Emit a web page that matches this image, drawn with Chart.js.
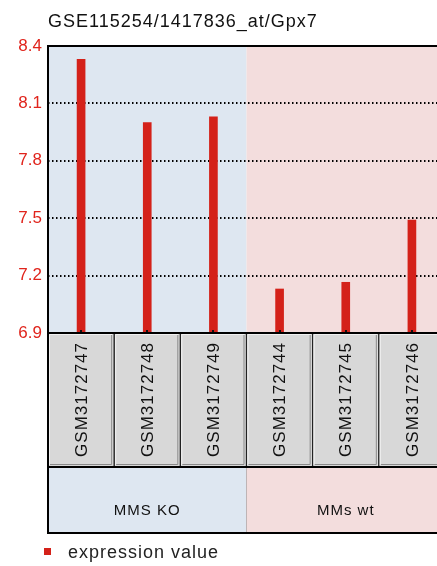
<!DOCTYPE html>
<html>
<head>
<meta charset="utf-8">
<script src="https://cdn.jsdelivr.net/npm/chart.js@4/dist/chart.umd.min.js"></script>
<style>
  html, body { margin: 0; padding: 0; background: #fff; overflow: hidden; }
  #wrap { position: relative; width: 450px; height: 566px; }
</style>
</head>
<body>
<div id="wrap"><canvas id="c"></canvas></div>
<script>
// Expression profile for probe 1417836_at (Gpx7), GSE115254
const chartTitle = "GSE115254/1417836_at/Gpx7";
const samples = ["GSM3172747", "GSM3172748", "GSM3172749", "GSM3172744", "GSM3172745", "GSM3172746"];
const expression = [8.33, 8.00, 8.03, 7.13, 7.165, 7.49];
const sampleGroups = ["MMS KO", "MMS KO", "MMS KO", "MMs wt", "MMs wt", "MMs wt"];
const groupNames = ["MMS KO", "MMs wt"];
const yTicks = [6.9, 7.2, 7.5, 7.8, 8.1, 8.4];
const seriesName = "expression value";

const groupFill = { "MMS KO": "#dee7f1", "MMs wt": "#f3dddd" };
const barColor = "#d42119";
const FONT = "'Liberation Sans', Arial, sans-serif";

// index range [first, last] of each group along the category axis
function groupSpans() {
  return groupNames.map(g => {
    const idx = sampleGroups.map((s, i) => s === g ? i : -1).filter(i => i >= 0);
    return { name: g, first: Math.min(...idx), last: Math.max(...idx) };
  });
}

function colEdges(xs, i) {
  const half = (xs.getPixelForValue(1) - xs.getPixelForValue(0)) / 2;
  const c = xs.getPixelForValue(i);
  return [c - half, c + half];
}

const decorations = {
  id: "decorations",
  beforeDraw(chart) {
    const { ctx, chartArea: a, scales: { x } } = chart;
    ctx.save();
    for (const g of groupSpans()) {
      const l = colEdges(x, g.first)[0], r = colEdges(x, g.last)[1];
      ctx.fillStyle = groupFill[g.name];
      ctx.fillRect(l, a.top, r - l, a.bottom - a.top);
    }
    ctx.restore();
  },
  afterDraw(chart) {
    const { ctx, chartArea: a, scales: { x } } = chart;
    const labelTop = a.bottom, labelBottom = a.bottom + 134;
    const groupBottom = labelBottom + 66;
    ctx.save();
    ctx.letterSpacing = "1px";

    // sample name boxes
    samples.forEach((s, i) => {
      const [l, r] = colEdges(x, i);
      ctx.fillStyle = "#d8d8d8";
      ctx.fillRect(l + 1, labelTop + 1, r - l - 2, labelBottom - labelTop - 2);
      ctx.strokeStyle = "#f0f0f0";
      ctx.lineWidth = 1;
      ctx.beginPath();
      ctx.moveTo(l + 1.5, labelBottom - 2); ctx.lineTo(l + 1.5, labelTop + 1.5); ctx.lineTo(r - 2, labelTop + 1.5);
      ctx.stroke();
      ctx.strokeStyle = "#8a8a8a";
      ctx.beginPath();
      ctx.moveTo(r - 2.5, labelTop + 2); ctx.lineTo(r - 2.5, labelBottom - 2.5); ctx.lineTo(l + 2, labelBottom - 2.5);
      ctx.stroke();
      ctx.strokeStyle = "#222";
      ctx.lineWidth = 1.5;
      ctx.beginPath();
      ctx.moveTo(r, labelTop); ctx.lineTo(r, labelBottom);
      ctx.stroke();

      // small tick mark at the category position
      const cx = Math.round(x.getPixelForValue(i));
      ctx.fillStyle = "#111";
      ctx.fillRect(cx - 1, a.bottom - 3, 2, 3);

      ctx.save();
      ctx.translate((l + r) / 2, labelTop + 9);
      ctx.rotate(-Math.PI / 2);
      ctx.fillStyle = "#111";
      ctx.font = "17px " + FONT;
      ctx.textAlign = "right";
      ctx.textBaseline = "middle";
      ctx.fillText(s, 0, 1);
      ctx.restore();
    });

    // group boxes
    for (const g of groupSpans()) {
      const l = colEdges(x, g.first)[0], r = colEdges(x, g.last)[1];
      ctx.fillStyle = groupFill[g.name];
      ctx.fillRect(l, labelBottom, r - l, groupBottom - labelBottom);
      ctx.strokeStyle = "#222";
      ctx.lineWidth = 1;
      ctx.beginPath();
      ctx.moveTo(r + 0.5, labelBottom); ctx.lineTo(r + 0.5, groupBottom);
      ctx.stroke();
      ctx.fillStyle = "#111";
      ctx.font = "15px " + FONT;
      ctx.textAlign = "center";
      ctx.textBaseline = "middle";
      ctx.fillText(g.name, (l + r) / 2, labelBottom + 44);
    }

    // frames
    ctx.strokeStyle = "#000";
    ctx.lineWidth = 2;
    ctx.strokeRect(a.left, a.top, a.right - a.left, a.bottom - a.top);
    ctx.strokeRect(a.left, labelBottom, a.right - a.left, groupBottom - labelBottom);
    ctx.beginPath();
    ctx.moveTo(a.left, a.bottom); ctx.lineTo(a.left, groupBottom);
    ctx.stroke();

    // title
    ctx.fillStyle = "#111";
    ctx.font = "18px " + FONT;
    ctx.textAlign = "left";
    ctx.textBaseline = "alphabetic";
    ctx.fillText(chartTitle, a.left, 27);

    // legend
    ctx.fillStyle = barColor;
    ctx.fillRect(44, 548, 7, 7);
    ctx.fillStyle = "#222";
    ctx.font = "18px " + FONT;
    ctx.textBaseline = "middle";
    ctx.fillText(seriesName, 68, 553);
    ctx.restore();
  }
};

new Chart(document.getElementById("c"), {
  type: "bar",
  data: {
    labels: samples,
    datasets: [{
      label: seriesName,
      data: expression,
      base: yTicks[0],
      backgroundColor: barColor,
      barThickness: 8,
      borderWidth: 0
    }]
  },
  options: {
    responsive: true,
    maintainAspectRatio: false,
    animation: false,
    devicePixelRatio: 1,
    layout: { padding: { left: 0, top: 46, right: 5, bottom: 233 } },
    plugins: { legend: { display: false }, tooltip: { enabled: false }, title: { display: false } },
    scales: {
      x: { type: "category", display: false, offset: true },
      y: {
        min: yTicks[0],
        max: yTicks[yTicks.length - 1],
        afterFit(scale) { scale.width = 48; },
        afterBuildTicks(scale) { scale.ticks = yTicks.map(v => ({ value: v })); },
        border: { display: false, dash: [1.5, 2.5] },
        grid: {
          color: ctx => (ctx.tick && (ctx.tick.value === yTicks[0] || ctx.tick.value === yTicks[yTicks.length - 1])) ? "rgba(0,0,0,0)" : "#000",
          lineWidth: 2,
          tickLength: 0,
          drawTicks: false
        },
        ticks: {
          color: "#e0241c",
          padding: 6,
          font: { family: FONT, size: 17 },
          callback: v => Number(v).toFixed(1)
        }
      }
    }
  },
  plugins: [decorations]
});
</script>
</body>
</html>
